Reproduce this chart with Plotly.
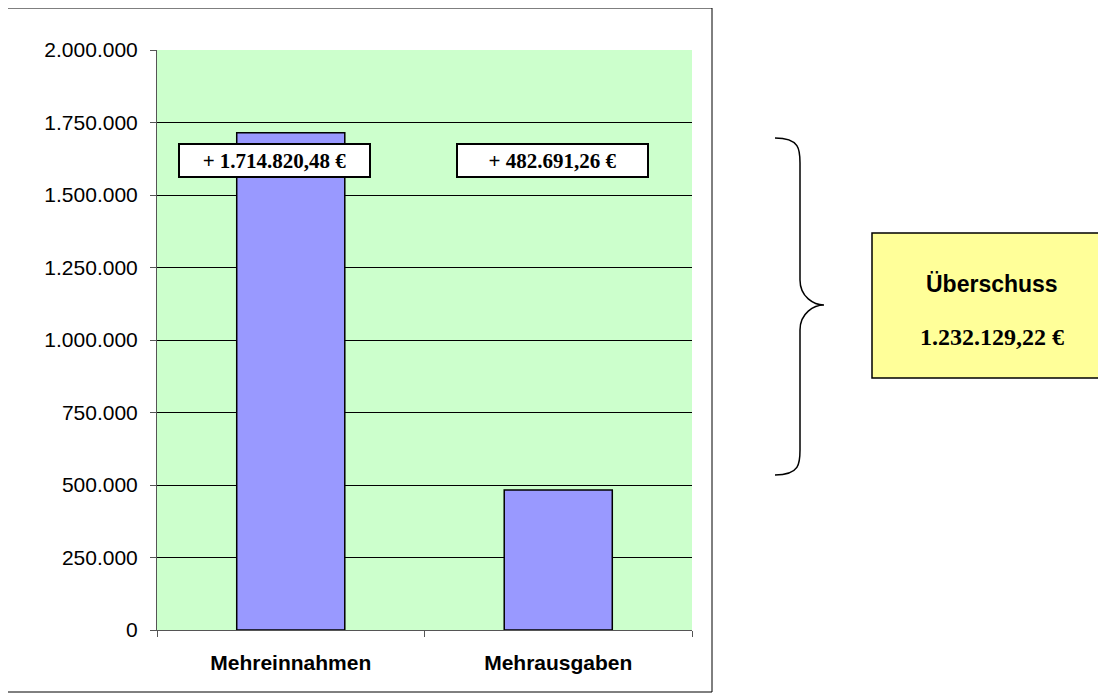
import plotly.graph_objects as go

categories = ["Mehreinnahmen", "Mehrausgaben"]
values = [1714820.48, 482691.26]
y_ticks = [0, 250000, 500000, 750000, 1000000, 1250000, 1500000, 1750000, 2000000]

OFF = 8  # page body margin compensation
W, H = 1106 - OFF, 700 - OFF
L, R, T, B = 157, 692, 50, 630  # plot area in reference pixels


def px(x):
    return (x - L) / (R - L)


def py(y):
    return (B - y) / (B - T)


def de_fmt(v):
    s = f"{v:,.2f}"
    return s.replace(",", "X").replace(".", ",").replace("X", ".")


fig = go.Figure()
fig.add_trace(go.Bar(
    x=categories, y=values, width=0.404,
    marker=dict(color="#9999FF", line=dict(color="black", width=1.5)),
    hoverinfo="skip",
))

fig.update_layout(
    width=W, height=H,
    margin=dict(l=L - OFF, r=1106 - R, t=T - OFF, b=700 - B, pad=0),
    paper_bgcolor="white", plot_bgcolor="#CCFFCC",
    separators=",.",
    showlegend=False,
    font=dict(family="Liberation Sans, Arial", color="black"),
)
fig.update_yaxes(
    range=[0, 2000000], tickmode="array", tickvals=y_ticks,
    tickformat=",d", showgrid=True, gridcolor="black", gridwidth=1,
    showline=True, linecolor="#555555", linewidth=1,
    ticks="outside", ticklen=6, tickcolor="#555555", ticklabelstandoff=8,
    tickfont=dict(size=21, family="Liberation Sans, Arial", color="black"),
    zeroline=False, fixedrange=True,
)
fig.update_xaxes(
    showline=True, linecolor="#555555", linewidth=1,
    ticks="outside", tickson="boundaries", ticklen=6, tickcolor="#555555",
    ticklabelstandoff=14,
    tickfont=dict(size=21, family="Liberation Sans, Arial", color="black", weight="bold"),
    range=[-0.5, 1.5], fixedrange=True,
)

# value label boxes
shifts = [-16, -6]
for cat, v, sh in zip(categories, values, shifts):
    fig.add_annotation(
        x=cat, y=(B - 160) / (B - T) * 2000000, xref="x", yref="y",
        text="<b>+ " + de_fmt(v) + " €</b>", showarrow=False,
        xshift=sh, width=189, height=31, borderpad=0,
        bgcolor="white", bordercolor="black", borderwidth=2,
        font=dict(family="Liberation Serif, Times New Roman", size=21, color="black"),
    )

# outer frame
fig.add_shape(type="rect", xref="paper", yref="paper",
              x0=px(6), x1=px(712), y0=py(692), y1=py(8),
              line=dict(color="black", width=1), layer="above")

# curly brace
bx0, bx1, btip = 775, 800, 824
by0, bmid, by1 = 138, 305, 475
pts = [
    f"M {px(bx0)},{py(by0)}",
    f"C {px(bx1)},{py(by0)} {px(bx1)},{py(by0+12)} {px(bx1)},{py(by0+25)}",
    f"L {px(bx1)},{py(bmid-25)}",
    f"C {px(bx1)},{py(bmid-8)} {px(btip-10)},{py(bmid)} {px(btip)},{py(bmid)}",
    f"C {px(btip-10)},{py(bmid)} {px(bx1)},{py(bmid+8)} {px(bx1)},{py(bmid+25)}",
    f"L {px(bx1)},{py(by1-25)}",
    f"C {px(bx1)},{py(by1-12)} {px(bx1)},{py(by1)} {px(bx0)},{py(by1)}",
]
fig.add_shape(type="path", xref="paper", yref="paper", path=" ".join(pts),
              line=dict(color="black", width=1.5))

# surplus box
fig.add_shape(type="rect", xref="paper", yref="paper",
              x0=px(872), x1=px(1112), y0=py(378), y1=py(233),
              fillcolor="#FFFF99", line=dict(color="black", width=1.5))
surplus = values[0] - values[1]
fig.add_annotation(x=px(992), y=py(284), xref="paper", yref="paper",
                   xanchor="center", yanchor="middle",
                   text="<b>Überschuss</b>", showarrow=False,
                   font=dict(family="Liberation Sans, Arial", size=23, color="black"))
fig.add_annotation(x=px(992), y=py(337), xref="paper", yref="paper",
                   xanchor="center", yanchor="middle",
                   text="<b>" + de_fmt(surplus) + " €</b>", showarrow=False,
                   font=dict(family="Liberation Serif, Times New Roman", size=24, color="black"))

fig.write_html("out.html", config={"displayModeBar": False})
